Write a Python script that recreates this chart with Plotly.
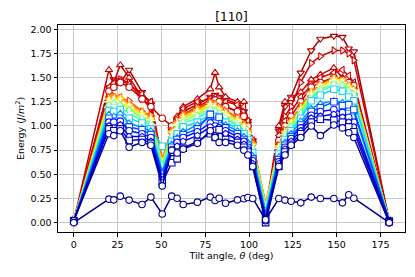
import plotly.graph_objects as go

angles = [0, 20.05, 22.84, 26.53, 31.59, 38.94, 44.00, 50.48, 55.88, 58.99, 62.44, 70.53,
          77.88, 80.63, 82.95, 86.63, 93.37, 97.05, 99.37, 102.12, 109.47, 117.0, 120.5,
          124.0, 129.52, 135.5, 140.7, 148.4, 153.3, 156.9, 159.8, 180]

# red (high-energy) series
red_v = [0.02, 1.40, 1.48, 1.45, 1.58, 1.35, 1.22, 0.62, 0.95, 1.05, 1.15, 1.22, 1.30, 1.32, 1.30, 1.28,
         1.22, 1.15, 1.05, 0.85, 0.10, 0.95, 1.20, 1.30, 1.55, 1.78, 1.90, 1.93, 1.92, 1.80, 1.77, 0.02]
red_up = [0.02, 1.58, 1.45, 1.63, 1.50, 1.30, 1.25, 0.60, 1.00, 1.10, 1.20, 1.28, 1.38, 1.55, 1.40, 1.30,
          1.25, 1.25, 1.05, 0.85, 0.12, 1.00, 1.25, 1.28, 1.35, 1.48, 1.53, 1.60, 1.50, 1.45, 1.40, 0.02]
red_right = [0.02, 1.38, 1.42, 1.48, 1.45, 1.28, 1.18, 0.64, 0.92, 1.05, 1.12, 1.20, 1.27, 1.28, 1.25, 1.20,
             1.15, 1.10, 1.00, 0.82, 0.08, 0.90, 1.10, 1.20, 1.45, 1.65, 1.72, 1.78, 1.78, 1.75, 1.68, 0.02]
red_left = [0.02, 1.40, 1.44, 1.47, 1.43, 1.33, 1.25, 0.65, 0.93, 1.08, 1.18, 1.25, 1.28, 1.30, 1.28, 1.25,
            1.22, 1.20, 1.05, 0.85, 0.10, 0.90, 1.05, 1.15, 1.30, 1.42, 1.50, 1.55, 1.58, 1.52, 1.45, 0.02]
red_o = [0.02, 1.36, 1.40, 1.45, 1.40, 1.28, 1.20, 1.08, 1.00, 1.05, 1.12, 1.18, 1.25, 1.27, 1.25, 1.20,
         1.15, 1.10, 1.00, 0.82, 0.12, 0.85, 1.00, 1.10, 1.25, 1.40, 1.45, 1.50, 1.48, 1.45, 1.42, 0.02]

# rainbow band, warm (top) to dark blue (bottom)
band_12 = [0.03, 1.30, 1.31, 1.29, 1.26, 1.15, 1.11, 0.66, 0.95, 1.06, 1.12, 1.19, 1.25, 1.23, 1.20, 1.16,
           1.09, 1.02, 0.96, 0.82, 0.20, 0.80, 0.96, 1.05, 1.21, 1.35, 1.43, 1.50, 1.47, 1.42, 1.38, 0.03]
band_11 = [0.02, 1.28, 1.30, 1.30, 1.22, 1.15, 1.08, 0.65, 0.94, 1.03, 1.11, 1.17, 1.23, 1.22, 1.18, 1.14,
           1.08, 1.01, 0.93, 0.81, 0.19, 0.79, 0.93, 1.05, 1.18, 1.35, 1.40, 1.49, 1.46, 1.42, 1.36, 0.02]
band_10 = [0.02, 1.27, 1.27, 1.28, 1.21, 1.12, 1.07, 0.62, 0.93, 1.02, 1.09, 1.15, 1.22, 1.19, 1.17, 1.12,
           1.06, 1.00, 0.93, 0.80, 0.18, 0.78, 0.93, 1.03, 1.17, 1.33, 1.42, 1.48, 1.47, 1.40, 1.36, 0.02]
band_9 = [0.02, 1.25, 1.26, 1.24, 1.19, 1.10, 1.06, 0.61, 0.90, 1.01, 1.07, 1.13, 1.21, 1.18, 1.15, 1.11,
          1.05, 0.98, 0.92, 0.52, 0.17, 0.77, 0.91, 1.01, 1.16, 1.33, 1.41, 1.47, 1.45, 1.39, 1.35, 0.02]
band_8 = [0.02, 1.22, 1.24, 1.22, 1.17, 1.08, 1.03, 0.60, 0.89, 0.98, 1.05, 1.11, 1.18, 1.16, 1.14, 1.09,
          1.02, 0.96, 0.90, 0.77, 0.16, 0.75, 0.90, 1.00, 1.14, 1.30, 1.38, 1.44, 1.43, 1.37, 1.33, 0.02]
band_7 = [0.02, 1.19, 1.21, 1.19, 1.13, 1.06, 1.01, 0.57, 0.87, 0.96, 1.03, 1.08, 1.16, 1.13, 1.11, 1.07,
          1.00, 0.95, 0.88, 0.74, 0.14, 0.73, 0.88, 0.97, 1.11, 1.29, 1.36, 1.42, 1.39, 1.34, 1.30, 0.02]
band_6 = [0.02, 1.16, 1.15, 1.17, 1.08, 1.03, 0.97, 0.79, 0.84, 0.92, 0.99, 1.04, 1.12, 1.10, 1.08, 1.04,
          0.97, 0.92, 0.86, 0.72, 0.12, 0.71, 0.86, 0.95, 1.08, 1.26, 1.32, 1.38, 1.36, 1.30, 1.26, 0.02]
band_5 = [0.02, 1.12, 1.10, 1.13, 1.03, 0.98, 0.95, 0.53, 0.81, 0.88, 0.94, 1.01, 1.09, 1.06, 1.05, 1.01,
          0.95, 0.89, 0.83, 0.69, 0.10, 0.68, 0.83, 0.92, 1.05, 1.18, 1.23, 1.26, 1.24, 1.18, 1.14, 0.02]
band_4 = [0.02, 1.08, 1.00, 1.03, 0.99, 0.96, 0.91, 0.50, 0.78, 0.86, 0.91, 0.97, 1.12, 1.03, 1.09, 0.98,
          0.92, 0.86, 0.80, 0.66, 0.08, 0.65, 0.80, 0.89, 1.01, 1.15, 1.19, 1.25, 1.21, 1.22, 1.17, 0.02]
band_3 = [0.02, 1.04, 1.04, 1.05, 0.95, 0.92, 0.88, 0.47, 0.75, 0.83, 0.88, 0.94, 1.03, 1.00, 0.98, 0.95,
          0.89, 0.84, 0.78, 0.64, 0.06, 0.63, 0.78, 0.87, 0.98, 1.11, 1.15, 1.17, 1.14, 1.09, 1.04, 0.02]
band_2 = [0.02, 1.00, 0.98, 1.01, 0.89, 0.89, 0.84, 0.44, 0.72, 0.79, 0.84, 0.90, 0.99, 0.96, 0.95, 0.92,
          0.86, 0.81, 0.76, 0.61, 0.04, 0.61, 0.76, 0.84, 0.95, 1.08, 1.10, 1.12, 1.09, 1.04, 0.99, 0.02]
band_1 = [0.02, 0.97, 0.95, 0.97, 0.85, 0.86, 0.82, 0.41, 0.62, 0.66, 0.77, 0.84, 0.92, 0.88, 0.96, 0.86,
          0.83, 0.78, 0.73, 0.58, 0.00, 0.58, 0.73, 0.81, 0.92, 1.04, 1.07, 1.06, 1.04, 0.99, 0.94, 0.01]
band_0 = [0.02, 0.92, 0.90, 0.95, 0.78, 0.83, 0.80, 0.38, 0.75, 0.72, 0.76, 0.82, 0.95, 0.88, 0.83, 0.83,
          0.80, 0.75, 0.70, 0.58, 0.02, 0.58, 0.70, 0.80, 0.88, 1.00, 0.90, 1.01, 0.98, 0.93, 0.88, 0.00]

# lowest series
low = [0.00, 0.243, 0.236, 0.274, 0.233, 0.188, 0.264, 0.089, 0.274, 0.253, 0.188, 0.212, 0.264, 0.229,
       0.253, 0.200, 0.236, 0.247, 0.260, 0.250, 0.03, 0.250, 0.233, 0.222, 0.205, 0.264, 0.250, 0.250,
       0.205, 0.288, 0.253, 0.00]

series = [
    ("red_v", red_v, "#A80000", "triangle-down"),
    ("red_up", red_up, "#C40000", "triangle-up"),
    ("red_right", red_right, "#D00000", "triangle-right"),
    ("red_left", red_left, "#D80000", "triangle-left"),
    ("red_o", red_o, "#C00000", "circle"),
    ("band_12", band_12, "#FF4A00", "triangle-right"),
    ("band_11", band_11, "#FF9400", "triangle-left"),
    ("band_10", band_10, "#FFDA00", "triangle-down"),
    ("band_9", band_9, "#C4FF33", "cross-thin"),
    ("band_8", band_8, "#7DFF7A", "triangle-up"),
    ("band_7", band_7, "#3CFFBA", "cross-thin"),
    ("band_6", band_6, "#10D8F0", "square"),
    ("band_5", band_5, "#0094FF", "triangle-up"),
    ("band_4", band_4, "#0050FF", "square"),
    ("band_3", band_3, "#0014FF", "circle"),
    ("band_2", band_2, "#0000E0", "pentagon"),
    ("band_1", band_1, "#0000C0", "square"),
    ("band_0", band_0, "#00009E", "circle"),
    ("low", low, "#00008C", "circle"),
]

fig = go.Figure()
for name, vals, col, sym in series:
    if sym == "cross-thin":
        marker = dict(symbol=sym, size=7, color=col, line=dict(color="white", width=1.5))
    else:
        marker = dict(symbol=sym, size=6.5, color="white", line=dict(color=col, width=1.1))
    fig.add_trace(go.Scatter(x=angles, y=vals, mode="lines+markers", name=name,
                             line=dict(color=col, width=1.5), marker=marker,
                             showlegend=False))

axis_common = dict(showline=True, linecolor="black", linewidth=1, mirror=True,
                   ticks="outside", ticklen=3.5, tickwidth=0.8, tickcolor="black",
                   showgrid=True, gridcolor="#c8c8c8", gridwidth=1, zeroline=False,
                   automargin=False,
                   tickfont=dict(family="DejaVu Sans", size=9.5, color="black"))

# the page body adds an 8 px offset; margins compensate so the plot box lands
# at the reference position in the browser window
fig.update_layout(
    width=415, height=277,
    margin=dict(l=50, r=18, t=17, b=53, autoexpand=False),
    paper_bgcolor="white", plot_bgcolor="white",
    title=dict(text="[110]", x=0.5, xanchor="center", xref="paper",
               yref="container", y=1 - 8.5 / 277, yanchor="middle",
               font=dict(family="DejaVu Sans", size=12, color="black")),
    xaxis=dict(range=[-9, 189], tickvals=[0, 25, 50, 75, 100, 125, 150, 175],
               title=dict(text="Tilt angle, <i>θ</i> (deg)", standoff=2,
                          font=dict(family="DejaVu Sans", size=9.5, color="black")),
               **axis_common),
    yaxis=dict(range=[-0.0967, 2.044], tickvals=[0, 0.25, 0.5, 0.75, 1.0, 1.25, 1.5, 1.75, 2.0],
               tickformat=".2f",
               title=dict(text="Energy (<i>J</i>/<i>m</i><sup>2</sup>)", standoff=4,
                          font=dict(family="DejaVu Sans", size=9.5, color="black")),
               **axis_common),
)

fig.write_html("out.html")
